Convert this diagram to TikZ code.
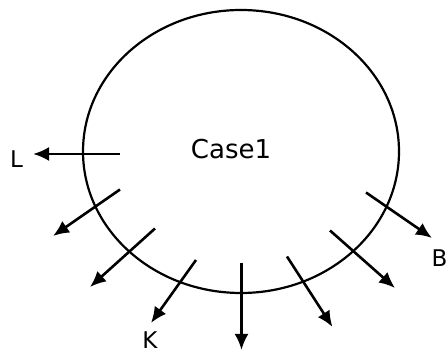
\documentclass[tikz,border=0pt]{standalone}
\usepackage{fontspec}
\setmainfont{DejaVu Sans}
\usetikzlibrary{arrows.meta}
\begin{document}
\begin{tikzpicture}[x=1pt,y=1pt,
  rim/.style={line width=2.2pt},
  ray/.style={line width=2.6pt,-{Latex[length=16pt,width=14pt]}},
  lbl/.style={font=\fontsize{23}{27}\selectfont,inner sep=0pt},
  ttl/.style={font=\fontsize{26}{31}\selectfont,inner sep=0pt}]
\useasboundingbox (0,0) rectangle (448,358);
\draw[rim] (241,206.5) ellipse [x radius=158, y radius=141.5];
\node[ttl] (case) at (231,209) {Case1};
% arrow start/end coordinates
\coordinate (s1) at (120,204); \coordinate (e1) at (33,204);
\coordinate (s2) at (120,168.5); \coordinate (e2) at (53,122);
\coordinate (s3) at (155,129.5); \coordinate (e3) at (90,71);
\coordinate (s4) at (196,98); \coordinate (e4) at (151,35);
\coordinate (s5) at (241.5,95); \coordinate (e5) at (241.5,8);
\coordinate (s6) at (287,101.5); \coordinate (e6) at (332.5,31);
\coordinate (s7) at (330,127.5); \coordinate (e7) at (395,70);
\coordinate (s8) at (366,165.5); \coordinate (e8) at (432,120);
\foreach \i in {1,...,8} \draw[ray] (s\i) -- (e\i);
\node[lbl] (L) at (16.5,199) {L};
\node[lbl] (K) at (150,18) {K};
\node[lbl] (B) at (439.5,99.5) {B};
\end{tikzpicture}
\end{document}
